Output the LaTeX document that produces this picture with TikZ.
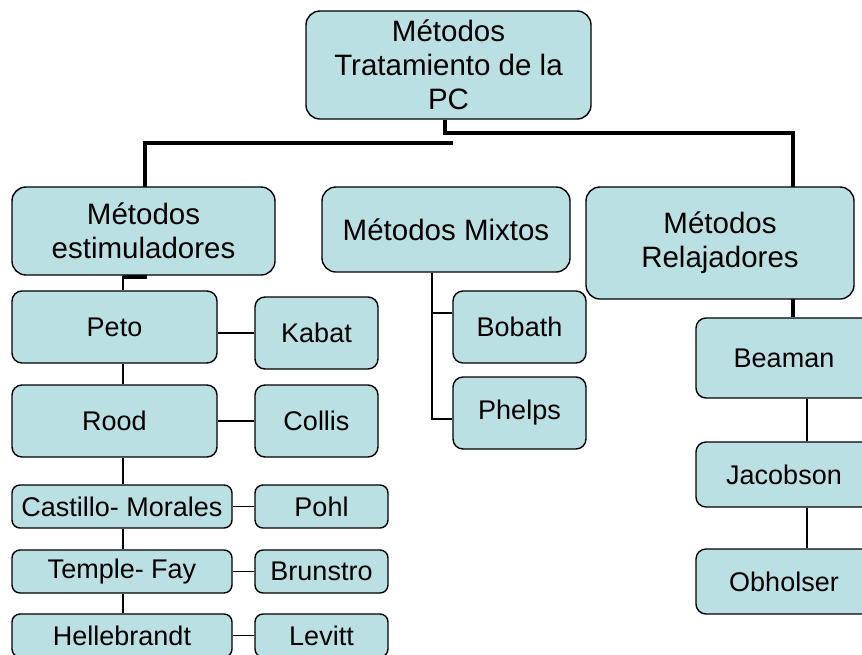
\documentclass[tikz,border=0pt]{standalone}
\usepackage{fontspec}
\setmainfont{Liberation Sans}
\usetikzlibrary{backgrounds}
\definecolor{boxfill}{HTML}{BBE0E3}
\tikzset{
  box/.style={draw=black, line width=1.4pt, fill=boxfill, inner sep=0pt, align=center},
  bigbox/.style={box, rounded corners=14pt, font=\fontsize{29.5}{34}\selectfont},
  smallbox/.style={box, rounded corners=10pt, font=\fontsize{27}{31}\selectfont},
  flatbox/.style={box, rounded corners=8pt, font=\fontsize{27}{31}\selectfont},
  thick link/.style={line width=4.4pt, line cap=butt},
  thin link/.style={line width=1.3pt}
}
\begin{document}
\begin{tikzpicture}[x=1pt,y=-1pt]
\useasboundingbox (0,0) rectangle (862,654);
% main nodes
\node[bigbox, minimum width=285pt, minimum height=108pt] (top) at (448.5,65) {Métodos\\Tratamiento de la\\PC};
\node[bigbox, minimum width=263pt, minimum height=88pt] (estim) at (143.5,231) {Métodos\\estimuladores};
\node[bigbox, minimum width=248pt, minimum height=85pt] (mixtos) at (446,229.5) {Métodos Mixtos};
\node[bigbox, minimum width=268pt, minimum height=112pt] (relaj) at (720,243) {Métodos\\Relajadores};
% left column
\node[smallbox, minimum width=205pt, minimum height=72pt] (peto) at (114.5,327) {Peto};
\node[smallbox, minimum width=123pt, minimum height=72pt] (kabat) at (316.5,333) {Kabat};
\node[smallbox, minimum width=205pt, minimum height=72pt] (rood) at (114.5,421) {Rood};
\node[smallbox, minimum width=123pt, minimum height=72pt] (collis) at (316.5,421) {Collis};
\node[flatbox, minimum width=220pt, minimum height=43pt] (castillo) at (122,506.5) {Castillo- Morales};
\node[flatbox, minimum width=133pt, minimum height=43pt] (pohl) at (321.5,506.5) {Pohl};
\node[flatbox, minimum width=220pt, minimum height=43pt] (temple) at (122,571.5) {Temple- Fay};
\node[flatbox, minimum width=133pt, minimum height=43pt] (brunstro) at (321.5,571.5) {Brunstro};
\node[flatbox, minimum width=220pt, minimum height=43pt] (helle) at (122,635.5) {Hellebrandt};
\node[flatbox, minimum width=133pt, minimum height=43pt] (levitt) at (321.5,635.5) {Levitt};
% middle column
\node[smallbox, minimum width=133pt, minimum height=72pt] (bobath) at (519.5,327) {Bobath};
\node[smallbox, minimum width=133pt, minimum height=72pt] (phelps) at (519.5,413) {Phelps};
% right column
\node[smallbox, minimum width=176pt, minimum height=80pt] (beaman) at (784,358) {Beaman};
\node[smallbox, minimum width=176pt, minimum height=65pt] (jacobson) at (784,474.5) {Jacobson};
\node[smallbox, minimum width=176pt, minimum height=65pt] (obholser) at (784,581.5) {Obholser};
% helper coordinates
\coordinate (tx) at (445,0);
\coordinate (rxT) at (793,0);
\coordinate (elbowR) at (0,133);
\coordinate (lfree) at (453,143);
\coordinate (lx) at (145,0);
\coordinate (stub) at (123,277);
\coordinate (sx) at (123,0);
\coordinate (mx) at (432,0);
\coordinate (bb) at (0,313);
\coordinate (pb) at (0,419);
\coordinate (rx) at (807,0);
\begin{scope}[on background layer]
  % thick connectors
  \draw[thick link] (top.south -| tx) -- (tx |- elbowR) -- (rxT |- elbowR) -- (beaman.north -| rxT);
  \draw[thick link] (lfree) -- (lx |- lfree) -- (lx |- stub) -- (stub);
  % left column
  \draw[thin link] (estim.south -| sx) -- (peto.north -| sx);
  \draw[thin link] (peto.south -| sx) -- (rood.north -| sx);
  \draw[thin link] (rood.south -| sx) -- (castillo.north -| sx);
  \draw[thin link] (castillo.south -| sx) -- (temple.north -| sx);
  \draw[thin link] (temple.south -| sx) -- (helle.north -| sx);
  \draw[thin link] (kabat.west) -- (kabat.west -| peto.east);
  \draw[thin link] (collis.west) -- (collis.west -| rood.east);
  \draw[thin link] (pohl.west) -- (castillo.east);
  \draw[thin link] (brunstro.west) -- (temple.east);
  \draw[thin link] (levitt.west) -- (helle.east);
  % middle
  \draw[thin link] (mixtos.south -| mx) -- (mx |- pb) -- (phelps.west |- pb);
  \draw[thin link] (mx |- bb) -- (bobath.west |- bb);
  % right
  \draw[thin link] (beaman.south -| rx) -- (jacobson.north -| rx);
  \draw[thin link] (jacobson.south -| rx) -- (obholser.north -| rx);
\end{scope}
\end{tikzpicture}
\end{document}
